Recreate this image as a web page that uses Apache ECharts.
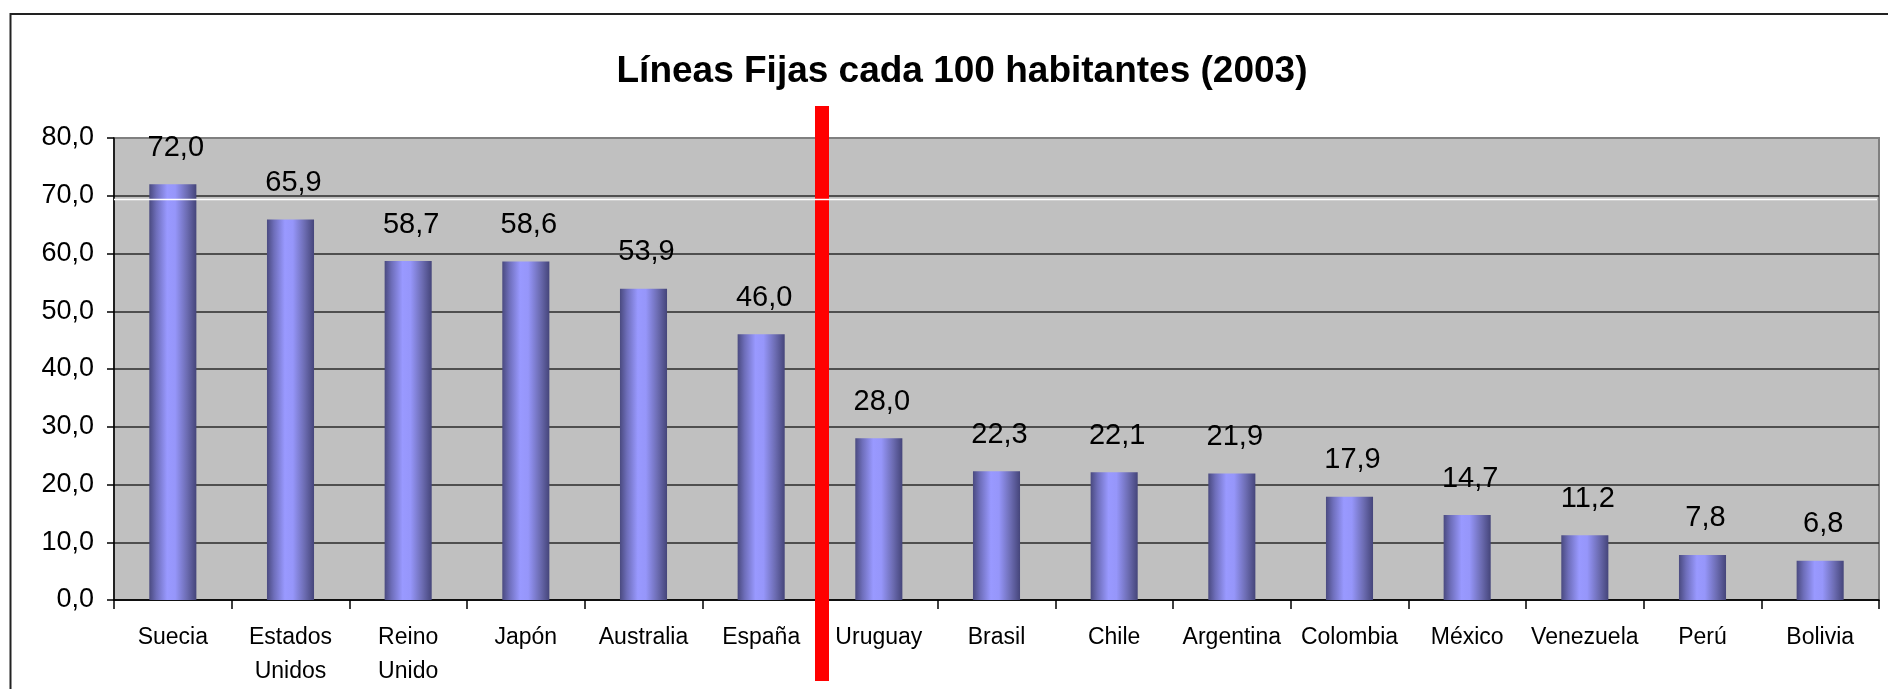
<!DOCTYPE html>
<html>
<head>
<meta charset="utf-8">
<script src="https://cdn.jsdelivr.net/npm/echarts@6/dist/echarts.min.js"></script>
<style>
html,body{margin:0;padding:0;background:#fff;}
#chart{width:1888px;height:689px;}
</style>
</head>
<body>
<div id="chart"></div>
<script>
const titleText = 'Líneas Fijas cada 100 habitantes (2003)';
const categories = ['Suecia', 'Estados\nUnidos', 'Reino\nUnido', 'Japón', 'Australia', 'España', 'Uruguay', 'Brasil', 'Chile', 'Argentina', 'Colombia', 'México', 'Venezuela', 'Perú', 'Bolivia'];
const values = [72.0, 65.9, 58.7, 58.6, 53.9, 46.0, 28.0, 22.3, 22.1, 21.9, 17.9, 14.7, 11.2, 7.8, 6.8];
const yMin = 0, yMax = 80, yStep = 10;
const dividerAfter = 'España';
const dividerBefore = 'Uruguay';

const chart = echarts.init(document.getElementById('chart'), null, {renderer: 'canvas'});

const barGradient = new echarts.graphic.LinearGradient(0, 0, 1, 0, [
  {offset: 0, color: '#4a4a80'},
  {offset: 0.15, color: '#6e6eba'},
  {offset: 0.38, color: '#9999ff'},
  {offset: 0.55, color: '#9696fa'},
  {offset: 0.8, color: '#6c6cb2'},
  {offset: 1, color: '#45457a'}
]);

const option = {
  backgroundColor: '#ffffff',
  animation: false,
  title: {
    text: titleText,
    left: 957,
    top: 48,
    textAlign: 'center',
    textStyle: {
      fontFamily: "'Liberation Sans', Arial, sans-serif",
      fontWeight: 'bold',
      fontSize: 37,
      color: '#000'
    }
  },
  grid: {
    left: 114,
    right: 9,
    top: 138,
    bottom: 89,
    show: true,
    backgroundColor: '#c0c0c0',
    borderColor: '#808080',
    borderWidth: 2
  },
  xAxis: {
    type: 'category',
    data: categories,
    boundaryGap: true,
    axisLine: {show: true, lineStyle: {color: '#000', width: 1.5}},
    axisTick: {show: true, alignWithLabel: false, length: 9, lineStyle: {color: '#000', width: 1.5}},
    axisLabel: {
      interval: 0,
      margin: 21,
      lineHeight: 34,
      fontFamily: "'Liberation Sans', Arial, sans-serif",
      fontSize: 23,
      color: '#000'
    },
    splitLine: {show: false}
  },
  yAxis: {
    type: 'value',
    min: yMin,
    max: yMax,
    interval: yStep,
    axisLine: {show: true, lineStyle: {color: '#000', width: 1.5}},
    axisTick: {show: true, length: 7, lineStyle: {color: '#000', width: 1.5}},
    axisLabel: {
      margin: 20,
      fontFamily: "'Liberation Sans', Arial, sans-serif",
      fontSize: 27,
      color: '#000',
      formatter: v => v.toFixed(1).replace('.', ',')
    },
    splitLine: {show: true, showMaxLine: false, lineStyle: {color: '#2a2a2a', width: 1.5}}
  },
  series: [{
    type: 'bar',
    data: values,
    barWidth: '40%',
    itemStyle: {color: barGradient},
    label: {
      show: true,
      position: 'top',
      distance: 22,
      offset: [3, 0],
      fontFamily: "'Liberation Sans', Arial, sans-serif",
      fontSize: 29,
      color: '#000',
      formatter: p => p.value.toFixed(1).replace('.', ',')
    }
  }]
};

chart.setOption(option);

function drawOverlays() {
  const xa = chart.convertToPixel({xAxisIndex: 0}, dividerAfter);
  const xb = chart.convertToPixel({xAxisIndex: 0}, dividerBefore);
  const xDiv = (xa + xb) / 2 + 2;
  const yTop = chart.convertToPixel({yAxisIndex: 0}, yMax);
  const yZero = chart.convertToPixel({yAxisIndex: 0}, yMin);
  const yArtifact = chart.convertToPixel({yAxisIndex: 0}, 69.35);
  const xLeft = chart.convertToPixel({xAxisIndex: 0}, categories[0]) - (xb - xa) / 2;
  const xRight = chart.convertToPixel({xAxisIndex: 0}, categories[categories.length - 1]) + (xb - xa) / 2;
  chart.setOption({
    graphic: [
      {
        type: 'rect',
        shape: {x: 10.5, y: 14, width: 1900, height: 700},
        style: {fill: 'none', stroke: '#222', lineWidth: 2},
        silent: true,
        z: 100
      },
      {
        type: 'rect',
        shape: {x: xDiv - 7, y: yTop - 32, width: 14, height: (yZero + 81) - (yTop - 32)},
        style: {fill: '#ff0000'},
        silent: true,
        z: 100
      },
      {
        type: 'line',
        shape: {x1: xLeft, y1: yArtifact, x2: xRight - 2, y2: yArtifact},
        style: {stroke: '#ffffff', lineWidth: 1.5},
        silent: true,
        z: 101
      }
    ]
  });
}
drawOverlays();
</script>
</body>
</html>
